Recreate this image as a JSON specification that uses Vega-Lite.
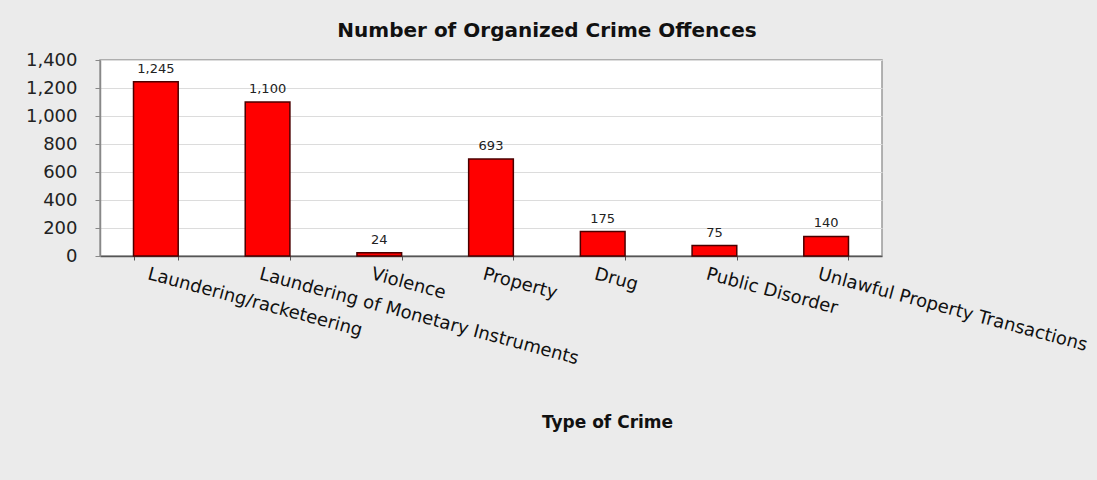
{
  "$schema": "https://vega.github.io/schema/vega-lite/v6.json",
  "autosize": "none",
  "width": 782,
  "height": 196,
  "padding": {"left": 100, "top": 60, "right": 215, "bottom": 224},
  "background": "#ebebeb",
  "title": {
    "text": "Number of Organized Crime Offences",
    "anchor": "middle",
    "frame": "group",
    "dx": 56,
    "offset": 10,
    "font": "DejaVu Sans",
    "fontSize": 20,
    "fontWeight": "bold",
    "color": "#111111"
  },
  "data": {
    "values": [
      {"crime": "Laundering/racketeering", "count": 1245},
      {"crime": "Laundering of Monetary Instruments", "count": 1100},
      {"crime": "Violence", "count": 24},
      {"crime": "Property", "count": 693},
      {"crime": "Drug", "count": 175},
      {"crime": "Public Disorder", "count": 75},
      {"crime": "Unlawful Property Transactions", "count": 140}
    ]
  },
  "config": {
    "view": {"fill": "white", "stroke": "#9a9a9a", "strokeWidth": 1.5}
  },
  "encoding": {
    "x": {
      "field": "crime",
      "type": "nominal",
      "sort": null,
      "scale": {"paddingInner": 0.6, "paddingOuter": 0.3},
      "axis": {
        "title": "Type of Crime",
        "titleFont": "DejaVu Sans",
        "titleFontSize": 17,
        "titleFontWeight": "bold",
        "titleColor": "#111111",
        "titleX": 507,
        "titleY": 166,
        "titleBaseline": "middle",
        "titleAnchor": "middle",
        "labelAngle": 15,
        "labelAlign": "left",
        "labelBaseline": "top",
        "labelFont": "DejaVu Sans",
        "labelFontSize": 18,
        "labelColor": "#111111",
        "labelPadding": 5,
        "labelOverlap": false,
        "labelLimit": 0,
        "labelOffset": -6,
        "tickBand": "extent",
        "tickSize": 4,
        "tickColor": "#555555",
        "domainColor": "#555555",
        "domainWidth": 1.5
      }
    },
    "y": {
      "field": "count",
      "type": "quantitative",
      "scale": {"domain": [0, 1400], "nice": false},
      "axis": {
        "title": null,
        "values": [0, 200, 400, 600, 800, 1000, 1200, 1400],
        "format": ",d",
        "labelFont": "DejaVu Sans",
        "labelFontSize": 18,
        "labelColor": "#222222",
        "labelPadding": 18,
        "tickSize": 5,
        "tickColor": "#888888",
        "domainColor": "#888888",
        "domainWidth": 1.5,
        "gridColor": "#dcdcdc",
        "gridWidth": 1
      }
    }
  },
  "layer": [
    {
      "mark": {"type": "bar", "color": "#ff0000", "stroke": "#4a0000", "strokeWidth": 1.5}
    },
    {
      "mark": {"type": "text", "dy": -6, "baseline": "bottom", "font": "DejaVu Sans", "fontSize": 13, "color": "#222222"},
      "encoding": {
        "text": {"field": "count", "type": "quantitative", "format": ",d"}
      }
    }
  ]
}
